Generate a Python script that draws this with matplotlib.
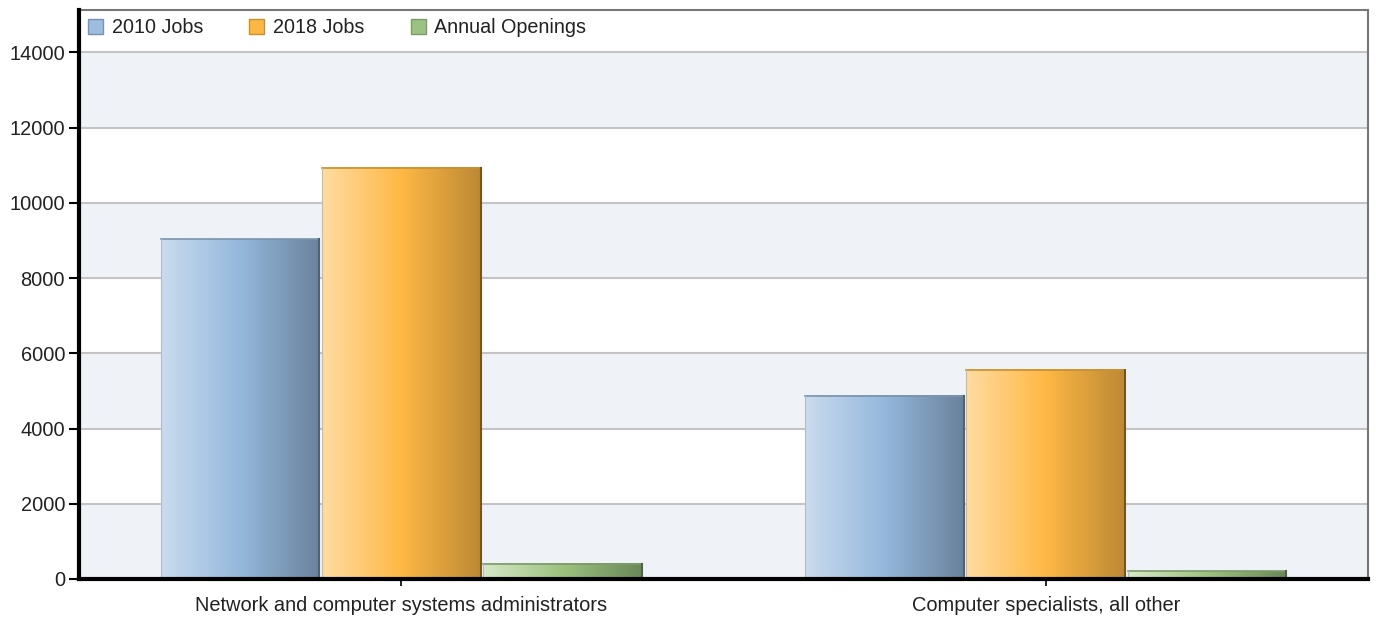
import numpy as np
import matplotlib
matplotlib.use("Agg")
import matplotlib.pyplot as plt
from matplotlib.colors import LinearSegmentedColormap
from matplotlib.patches import Patch

plt.rcParams['font.family'] = ['Liberation Sans', 'DejaVu Sans']

categories = ["Network and computer systems administrators", "Computer specialists, all other"]
series_names = ["2010 Jobs", "2018 Jobs", "Annual Openings"]
jobs_2010 = [9040, 4870]
jobs_2018 = [10930, 5560]
annual_openings = [400, 210]
yticks = [0, 2000, 4000, 6000, 8000, 10000, 12000, 14000]

series_values = [jobs_2010, jobs_2018, annual_openings]
grads = [
    ["#cadbee", "#94b8dc", "#6a829c"],
    ["#ffdca2", "#feb845", "#bd8934"],
    ["#d6e8c8", "#9cc27f", "#6a8858"],
]
mid_cols = ["#9dbde0", "#fdb844", "#9cc283"]
edge_cols = ["#7a93ad", "#c99030", "#7d9a6a"]
dark_edges = ["#4f6378", "#7a5518", "#4e6640"]

fig = plt.figure(figsize=(13.76, 6.19), dpi=100)
ax = fig.add_axes([79/1376, 1 - 579/619, (1368-79)/1376, (579-10)/619])

ymax = 15130
ax.set_xlim(-0.5, 1.5)
ax.set_ylim(0, ymax)

# alternating bands
for i in range(len(yticks) - 1):
    if i % 2 == 0:
        ax.axhspan(yticks[i], yticks[i+1], color="#eff3f8", zorder=0, lw=0)
for t in yticks[1:]:
    ax.axhline(t, color="#c4c4c4", lw=1.5, zorder=1)

x = np.arange(len(categories))
w = 0.25
grad = np.linspace(0, 1, 256).reshape(1, -1)
for s, vals in enumerate(series_values):
    cmap = LinearSegmentedColormap.from_list("g%d" % s, grads[s])
    bars = ax.bar(x + (s - 1) * w, vals, width=w * 0.985, color=mid_cols[s],
                  edgecolor="none", zorder=2)
    for b in bars:
        bx, bw, bh = b.get_x(), b.get_width(), b.get_height()
        ax.imshow(grad, cmap=cmap, extent=[bx, bx + bw, 0, bh], aspect='auto',
                  zorder=3, interpolation='bilinear')
        ax.plot([bx, bx + bw], [bh, bh], color=edge_cols[s], lw=1.2, zorder=4)
        ax.plot([bx + bw, bx + bw], [0, bh], color=dark_edges[s], lw=1.5, zorder=4)
        ax.plot([bx, bx], [0, bh], color="#bbbbbb", lw=0.8, zorder=4)

ax.set_xlim(-0.5, 1.5)
ax.set_ylim(0, ymax)
ax.set_xticks(x)
ax.set_xticklabels(categories, fontsize=14.4, color="#222222")
ax.set_yticks(yticks)
ax.set_yticklabels([str(t) for t in yticks], fontsize=14.4, color="#222222")
ax.tick_params(axis='y', length=7, width=1.5, direction='out', pad=3)
ax.tick_params(axis='x', length=5, width=1.2, direction='out', pad=7)

for side in ["left", "bottom"]:
    ax.spines[side].set_linewidth(3)
    ax.spines[side].set_color("black")
    ax.spines[side].set_zorder(6)
for side in ["top", "right"]:
    ax.spines[side].set_linewidth(1.5)
    ax.spines[side].set_color("#777777")

handles = [Patch(facecolor=mid_cols[i], edgecolor=edge_cols[i], lw=1) for i in range(3)]
leg = ax.legend(handles, series_names, loc="upper left", ncol=3, frameon=False,
                fontsize=14.2, handlelength=0.75, handleheight=0.75, handletextpad=0.45,
                columnspacing=2.35, bbox_to_anchor=(-0.003, 1.008), borderaxespad=0.25)
for t in leg.get_texts():
    t.set_color("#222222")

fig.savefig("out.png", dpi=100)
